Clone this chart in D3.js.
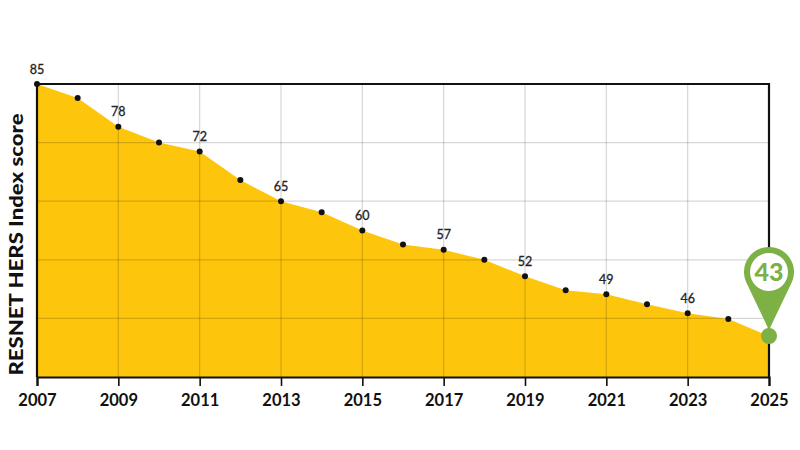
<!DOCTYPE html>
<html>
<head>
<meta charset="utf-8">
<script src="https://cdn.jsdelivr.net/npm/d3@7"></script>
<style>
  body { margin: 0; background: #fff; }
  svg { font-family: Lato, "Open Sans", sans-serif; }
</style>
</head>
<body>
<div id="root"></div>
<script>
// data
const years = [2007, 2008, 2009, 2010, 2011, 2012, 2013, 2014, 2015, 2016, 2017, 2018, 2019, 2020, 2021, 2022, 2023, 2024, 2025]
const scores = [85, 82.6, 77.7, 75, 73.5, 68.6, 65, 63.1, 60, 57.6, 56.7, 55, 52.2, 49.8, 49.1, 47.4, 45.9, 44.9, 42]
const pointLabels = ["85", "", "78", "", "72", "", "65", "", "60", "", "57", "", "52", "", "49", "", "46", "", ""]
const tickYears = [2007, 2009, 2011, 2013, 2015, 2017, 2019, 2021, 2023, 2025]
const gridScores = [45, 55, 65, 75]
const pinLabel = "43"
const yTitle = "RESNET HERS Index score"

const w = 800, h = 450
const mLeft = 37, mRight = 769, mTop = 84, mBottom = 377

const x = d3.scaleLinear().domain([2007, 2025]).range([mLeft, mRight])
const y = d3.scaleLinear().domain([35, 85]).range([mBottom, mTop])

const data = years.map((yr, i) => ({year: yr, score: scores[i], label: pointLabels[i]}))

const svg = d3.select("#root").append("svg")
    .attr("width", w)
    .attr("height", h)

// area
const area = d3.area()
    .x(d => x(d.year))
    .y0(mBottom)
    .y1(d => y(d.score))

svg.append("path")
    .datum(data)
    .attr("d", area)
    .attr("fill", "#fdc50b")

// grid
const grid = svg.append("g").attr("stroke", "rgba(0,0,0,0.16)").attr("stroke-width", 1.2)
grid.selectAll("line.h").data(gridScores).enter().append("line")
    .attr("x1", mLeft).attr("x2", mRight)
    .attr("y1", d => y(d)).attr("y2", d => y(d))
grid.selectAll("line.v").data(tickYears.slice(1, -1)).enter().append("line")
    .attr("x1", d => x(d)).attr("x2", d => x(d))
    .attr("y1", mTop).attr("y2", mBottom)

// frame
svg.append("path")
    .attr("d", `M${mLeft},${mBottom}V${mTop}H${mRight}V${mBottom}`)
    .attr("fill", "none")
    .attr("stroke", "#111")
    .attr("stroke-width", 2.2)

// x axis
const xAxis = svg.append("g")
    .attr("transform", `translate(0,${mBottom})`)
    .call(d3.axisBottom(x).tickValues(tickYears).tickFormat(d3.format("d")).tickSize(9).tickPadding(8))
xAxis.select(".domain").attr("stroke", "#111").attr("stroke-width", 2.2)
xAxis.selectAll(".tick line").attr("stroke", "#111").attr("stroke-width", 1.6)
xAxis.selectAll(".tick text")
    .attr("font-family", "Lato, sans-serif")
    .attr("font-weight", 700)
    .attr("font-size", 16.5)
    .attr("fill", "#111")

// y title
svg.append("text")
    .attr("transform", `translate(23,${(mTop + mBottom) / 2 + 14}) rotate(-90)`)
    .attr("text-anchor", "middle")
    .attr("font-weight", 900)
    .attr("font-size", 18)
    .attr("textLength", 262)
    .attr("lengthAdjust", "spacingAndGlyphs")
    .attr("fill", "#111")
    .text(yTitle)

// points
svg.selectAll("circle.pt").data(data.slice(0, -1)).enter().append("circle")
    .attr("class", "pt")
    .attr("cx", d => x(d.year))
    .attr("cy", d => y(d.score))
    .attr("r", 3)
    .attr("fill", "#111")

svg.selectAll("text.lbl").data(data.filter(d => d.label)).enter().append("text")
    .attr("class", "lbl")
    .attr("x", d => x(d.year))
    .attr("y", d => y(d.score) - 10.5)
    .attr("text-anchor", "middle")
    .attr("font-size", 12.5)
    .attr("font-weight", 400)
    .attr("stroke", "#222")
    .attr("stroke-width", 0.3)
    .attr("fill", "#222")
    .text(d => d.label)

// pin on last point
const last = data[data.length - 1]
const px = x(last.year), py = y(last.score)
const green = "#7db045"
const r = 25, cy = py - 64, tipY = py - 6
const D = tipY - cy
const phi = Math.acos(r / D)
const tx = r * Math.sin(phi), ty = r * Math.cos(phi)

svg.append("path")
    .attr("d", `M${px},${tipY}L${px - tx},${cy + ty}A${r},${r} 0 1 1 ${px + tx},${cy + ty}Z`)
    .attr("fill", green)
svg.append("circle")
    .attr("cx", px).attr("cy", cy).attr("r", 19)
    .attr("fill", "#fff")
svg.append("text")
    .attr("x", px).attr("y", cy + 9)
    .attr("text-anchor", "middle")
    .attr("font-weight", 900)
    .attr("font-size", 25)
    .attr("fill", green)
    .text(pinLabel)
svg.append("circle")
    .attr("cx", px).attr("cy", py).attr("r", 8)
    .attr("fill", green)
</script>
</body>
</html>
